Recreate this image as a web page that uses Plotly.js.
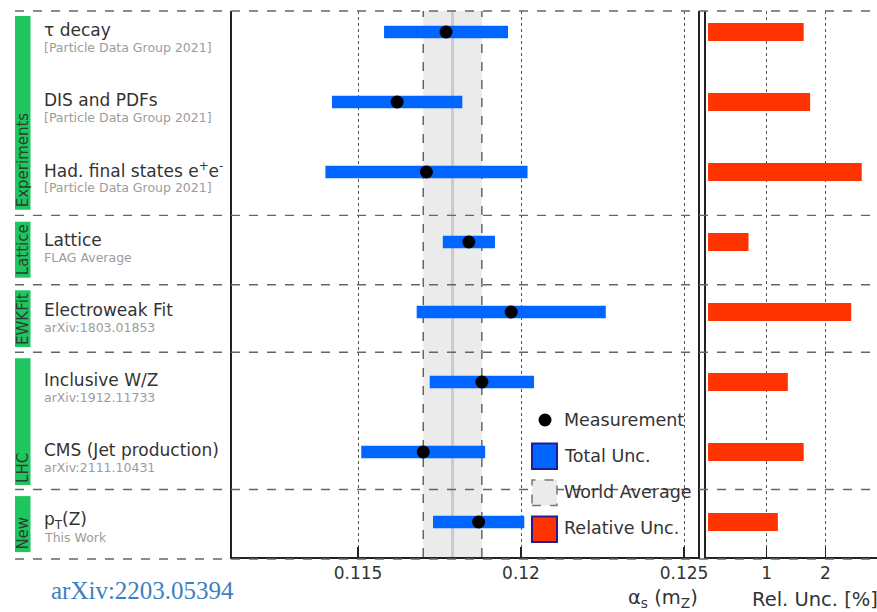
<!DOCTYPE html>
<html>
<head>
<meta charset="utf-8">
<script src="https://cdn.plot.ly/plotly-3.0.1.min.js"></script>
<style>
html,body{margin:0;padding:0;background:#fff;}
#chart{width:877px;height:612px;}
</style>
</head>
<body>
<div id="chart"></div>
<script>
// ---- data ----
const measurements = ['τ decay', 'DIS and PDFs', 'Had. final states e<sup>+</sup>e<sup>-</sup>', 'Lattice',
  'Electroweak Fit', 'Inclusive W/Z', 'CMS (Jet production)', 'p<sub>T</sub>(Z)'];
const references = ['[Particle Data Group 2021]', '[Particle Data Group 2021]', '[Particle Data Group 2021]',
  'FLAG Average', 'arXiv:1803.01853', 'arXiv:1912.11733', 'arXiv:2111.10431', 'This Work'];
const alphaS = [0.1177, 0.1162, 0.1171, 0.1184, 0.1197, 0.1188, 0.1170, 0.1187];
const totalUnc = [0.0019, 0.0020, 0.0031, 0.0008, 0.0029, 0.0016, 0.0019, 0.0014];
const relUnc = [1.63, 1.74, 2.62, 0.69, 2.44, 1.36, 1.63, 1.19];
const groupNames = ['Experiments', 'Lattice', 'EWKFit', 'LHC', 'New'];
const groupFirstRow = [0, 3, 4, 5, 7];
const groupLastRow = [2, 3, 4, 6, 7];
const separatorsAfterRow = [2, 3, 4, 6];
const worldAverage = 0.1179;
const worldAverageUnc = 0.0009;
const mainTicks = [0.115, 0.12, 0.125];
const mainTickText = ['0.115', '0.12', '0.125'];
const relTicks = [1, 2];
const relTickText = ['1', '2'];
const legendLabels = ['Measurement', 'Total Unc.', 'World Average', 'Relative Unc.'];

const rows = measurements.map((_, i) => i);

// ---- layout helpers (page pixels -> paper coords) ----
const W = 877, H = 612, MT = 11, MB = 55;
const PX = x => x / W;
const PY = y => (H - MB - y) / (H - MT - MB);

const BLUE = '#0066ff', RED = '#ff3300', GREEN = '#1fc660';
const FONT = 'DejaVu Sans, Liberation Sans, Arial, sans-serif';

const traces = [
  {
    type: 'bar', orientation: 'h', y: rows,
    x: totalUnc.map(e => 2 * e), base: alphaS.map((v, i) => v - totalUnc[i]),
    width: 0.18, marker: {color: BLUE, line: {width: 0}},
    xaxis: 'x', yaxis: 'y', hoverinfo: 'skip'
  },
  {
    type: 'scatter', mode: 'markers', x: alphaS, y: rows,
    marker: {color: '#000', size: 13, line: {width: 0}},
    xaxis: 'x', yaxis: 'y', hoverinfo: 'skip'
  },
  {
    type: 'bar', orientation: 'h', y: rows, x: relUnc, base: 0,
    width: 0.26, marker: {color: RED, line: {width: 0}},
    xaxis: 'x2', yaxis: 'y2', hoverinfo: 'skip'
  }
];

const shapes = [];
// world average band
shapes.push({type: 'rect', xref: 'x', yref: 'paper', x0: worldAverage - worldAverageUnc, x1: worldAverage + worldAverageUnc,
  y0: 0, y1: 1, fillcolor: '#ebebeb', line: {width: 0}, layer: 'below'});
shapes.push({type: 'line', xref: 'x', yref: 'paper', x0: worldAverage, x1: worldAverage, y0: 0, y1: 1,
  line: {color: '#cbcbcb', width: 3}, layer: 'below'});
[worldAverage - worldAverageUnc, worldAverage + worldAverageUnc].forEach(v => {
  shapes.push({type: 'line', xref: 'x', yref: 'paper', x0: v, x1: v, y0: 0, y1: 1,
    line: {color: '#444', width: 1.2, dash: 'dash'}, layer: 'below'});
});
// separators
const sepStyle = {color: '#666', width: 1.4, dash: 'dash'};
shapes.push({type: 'line', xref: 'paper', yref: 'paper', x0: PX(15), x1: 1, y0: 1, y1: 1, line: sepStyle, layer: 'above'});
shapes.push({type: 'line', xref: 'paper', yref: 'paper', x0: PX(15), x1: 1, y0: PY(559), y1: PY(559), line: sepStyle, layer: 'above'});
const sepOffset = [0.62, 0.61, 0.575, 0.535];
separatorsAfterRow.forEach((r, k) => {
  const yv = r + sepOffset[k];
  shapes.push({type: 'line', xref: 'paper', yref: 'y', x0: PX(15), x1: 1, y0: yv, y1: yv, line: sepStyle, layer: 'above'});
});
// group boxes
const groupTopOff = [-0.23, -0.29, -0.31, -0.34, -0.37];
const groupBotOff = [0.54, 0.51, 0.50, 0.47, 0.43];
groupNames.forEach((g, k) => {
  shapes.push({type: 'rect', xref: 'paper', yref: 'y', x0: PX(15), x1: PX(30.5),
    y0: groupFirstRow[k] + groupTopOff[k], y1: groupLastRow[k] + groupBotOff[k],
    fillcolor: GREEN, line: {width: 0}, layer: 'above'});
});
// legend glyphs
shapes.push({type: 'circle', xref: 'paper', yref: 'paper', x0: PX(538.5), x1: PX(551.5), y0: PY(426.5), y1: PY(413.5),
  fillcolor: '#000', line: {width: 0}, layer: 'above'});
shapes.push({type: 'rect', xref: 'paper', yref: 'paper', x0: PX(532), x1: PX(557), y0: PY(469), y1: PY(443.5),
  fillcolor: BLUE, line: {color: '#1c1c9c', width: 2}, layer: 'above'});
shapes.push({type: 'rect', xref: 'paper', yref: 'paper', x0: PX(532), x1: PX(557), y0: PY(505.5), y1: PY(480),
  fillcolor: '#ebebeb', line: {color: '#777', width: 1.5, dash: 'dash'}, layer: 'above'});
shapes.push({type: 'rect', xref: 'paper', yref: 'paper', x0: PX(532), x1: PX(557), y0: PY(542), y1: PY(516.5),
  fillcolor: RED, line: {color: '#2a1a8a', width: 2}, layer: 'above'});

const annotations = [];
rows.forEach(i => {
  annotations.push({text: measurements[i], xref: 'paper', yref: 'y', x: PX(42), y: i, xanchor: 'left', yanchor: 'middle',
    yshift: 2, showarrow: false, font: {family: FONT, size: 17, color: '#333'}});
  annotations.push({text: references[i], xref: 'paper', yref: 'y', x: PX(42), y: i, xanchor: 'left', yanchor: 'middle',
    yshift: -15, showarrow: false, font: {family: FONT, size: 12.5, color: '#9c9c9c'}});
});
groupNames.forEach((g, k) => {
  annotations.push({text: g, xref: 'paper', yref: 'y', x: PX(23), y: groupLastRow[k] + groupBotOff[k],
    xanchor: 'center', yanchor: 'bottom', textangle: -90, showarrow: false,
    font: {family: FONT, size: 15, color: '#2d3d32'}});
});
const legendY = [420, 456, 492, 528];
legendLabels.forEach((t, k) => {
  annotations.push({text: t, xref: 'paper', yref: 'paper', x: PX(562), y: PY(legendY[k]), xanchor: 'left', yanchor: 'middle',
    showarrow: false, font: {family: FONT, size: 17.5, color: '#333'}});
});
annotations.push({text: 'arXiv:2203.05394', xref: 'paper', yref: 'paper', x: PX(49), y: PY(590), xanchor: 'left', yanchor: 'middle',
  showarrow: false, font: {family: 'Liberation Serif, Times New Roman, serif', size: 25, color: '#3b7fc4'}});
annotations.push({text: 'α<sub>s</sub> (m<sub>Z</sub>)', xref: 'paper', yref: 'paper', x: PX(700), y: PY(598), xanchor: 'right', yanchor: 'middle',
  showarrow: false, font: {family: FONT, size: 19.5, color: '#333'}});
annotations.push({text: 'Rel. Unc. [%]', xref: 'paper', yref: 'paper', x: PX(750), y: PY(599), xanchor: 'left', yanchor: 'middle',
  showarrow: false, font: {family: FONT, size: 19.5, color: '#333'}});

const axisLine = {showline: true, linecolor: '#222', linewidth: 2};
const layout = {
  width: W, height: H,
  margin: {l: 0, r: 0, t: MT, b: MB, pad: 0},
  paper_bgcolor: '#fff', plot_bgcolor: 'rgba(0,0,0,0)',
  showlegend: false, barmode: 'overlay',
  font: {family: FONT, color: '#333'},
  xaxis: Object.assign({
    domain: [PX(232), PX(698)], range: [0.111135, 0.125429], anchor: 'y',
    tickmode: 'array', tickvals: mainTicks, ticktext: mainTickText,
    ticks: 'inside', ticklen: 10, tickwidth: 1.5, tickcolor: '#222',
    showgrid: true, gridcolor: '#555', griddash: 'dot', gridwidth: 1, zeroline: false,
    tickfont: {family: FONT, size: 17, color: '#333'}
  }, axisLine),
  yaxis: Object.assign({
    domain: [0, 1], range: [7.5, -0.3], anchor: 'x',
    showticklabels: false, showgrid: false, zeroline: false, ticks: '', mirror: true
  }, axisLine),
  xaxis2: Object.assign({
    domain: [PX(706), 1], range: [-0.035, 2.88], anchor: 'y2',
    tickmode: 'array', tickvals: relTicks, ticktext: relTickText,
    ticks: 'inside', ticklen: 10, tickwidth: 1.5, tickcolor: '#222',
    showgrid: true, gridcolor: '#555', griddash: 'dot', gridwidth: 1, zeroline: false,
    tickfont: {family: FONT, size: 17, color: '#333'}
  }, axisLine),
  yaxis2: Object.assign({
    domain: [0, 1], matches: 'y', anchor: 'x2',
    showticklabels: false, showgrid: false, zeroline: false, ticks: '', mirror: false
  }, axisLine),
  shapes: shapes,
  annotations: annotations
};

Plotly.newPlot('chart', traces, layout, {staticPlot: true, displayModeBar: false});
</script>
</body>
</html>
